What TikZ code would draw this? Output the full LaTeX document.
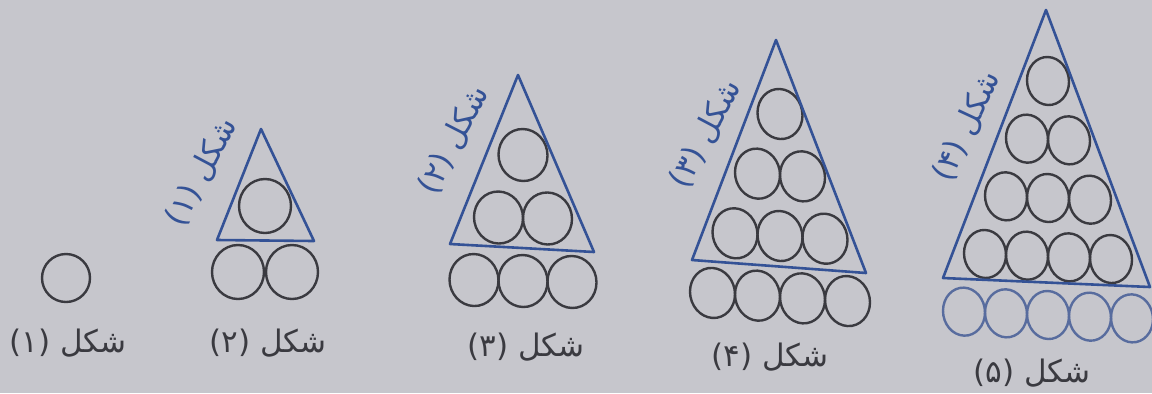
\documentclass[tikz,border=0pt]{standalone}
\usepackage{fontspec}
\newfontfamily\farsifont[Script=Arabic]{DejaVu Sans}
\TeXXeTstate=1

\definecolor{paper}{RGB}{198,198,204}
\definecolor{ink}{RGB}{58,58,64}
\definecolor{pen}{RGB}{52,82,150}
\definecolor{fadedpen}{RGB}{88,108,158}

\begin{document}
\begin{tikzpicture}[x=0.5pt, y=-0.5pt,
        ball/.style={draw=ink, line width=1.2pt},
        faded/.style={draw=fadedpen, line width=1.2pt},
        frame/.style={draw=pen, line width=1.3pt, line join=round},
        tag/.style={text=ink, font=\farsifont\fontsize{15.5}{18}\selectfont, inner sep=1pt},
        sidetag/.style={tag, text=pen}]

        \useasboundingbox[fill=paper] (0,0) rectangle (1152,393);

        % Figure 1
        \draw [ball] (66,278) ellipse [x radius=24, y radius=24];

        % Figure 2
        \begin{scope}[shift={(265,272)}]
            \foreach \k in {1,...,2} {
                \foreach \j in {1,...,\k} {
                    \draw [ball] ({(\j-(\k+1)/2)*54}, {-(2-\k)*66}) ellipse [x radius=26, y radius=27];
                }
            }
        \end{scope}

        % Figure 3
        \begin{scope}[shift={(523,281)}, yslant=-0.02]
            \foreach \k in {1,...,3} {
                \foreach \j in {1,...,\k} {
                    \draw [ball] ({(\j-(\k+1)/2)*49}, {-(3-\k)*63}) ellipse [x radius=24.5, y radius=26];
                }
            }
        \end{scope}

        % Figure 4
        \begin{scope}[shift={(780,297)}, yslant=-0.06]
            \foreach \k in {1,...,4} {
                \foreach \j in {1,...,\k} {
                    \draw [ball] ({(\j-(\k+1)/2)*45}, {-(4-\k)*61}) ellipse [x radius=22.5, y radius=25];
                }
            }
        \end{scope}

        % Figure 5
        \begin{scope}[shift={(1048,315)}, yslant=-0.04]
            \foreach \k in {1,...,4} {
                \foreach \j in {1,...,\k} {
                    \draw [ball] ({(\j-(\k+1)/2)*42}, {-(5-\k)*58.5}) ellipse [x radius=21, y radius=24];
                }
            }
            \foreach \j in {1,...,5}
                \draw [faded] ({(\j-3)*42}, 0) ellipse [x radius=21, y radius=24];
        \end{scope}

        % Triangles round the previous figure
        \draw [frame] (261,129) -- (217,240) -- (314,241) -- cycle;
        \draw [frame] (518,75) -- (450,244) -- (594,252) -- cycle;
        \draw [frame] (776,40) -- (692,260) -- (866,273) -- cycle;
        \draw [frame] (1046,10) -- (943,278) -- (1150,287) -- cycle;

        % Labels
        \node [tag] (name1) at (68,343) {\beginR شکل (۱)\endR};
        \node [tag] (name2) at (268,343) {\beginR شکل (۲)\endR};
        \node [tag] (name3) at (526,347) {\beginR شکل (۳)\endR};
        \node [tag] (name4) at (770,357) {\beginR شکل (۴)\endR};
        \node [tag] (name5) at (1032,373) {\beginR شکل (۵)\endR};

        \node [sidetag, rotate=62] (side2) at (202,172) {\beginR شکل (۱)\endR};
        \node [sidetag, rotate=63] (side3) at (454,140) {\beginR شکل (۲)\endR};
        \node [sidetag, rotate=62] (side4) at (706,134) {\beginR شکل (۳)\endR};
        \node [sidetag, rotate=65] (side5) at (967,126) {\beginR شکل (۴)\endR};

    \end{tikzpicture}
\end{document}
